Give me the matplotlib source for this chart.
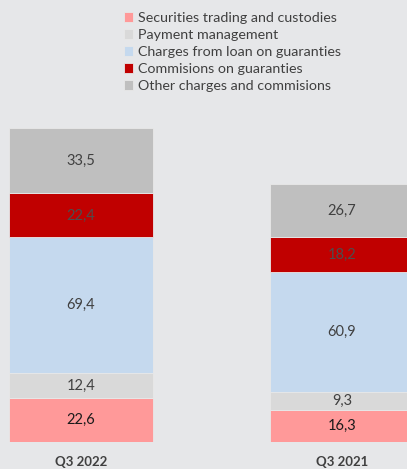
import matplotlib
matplotlib.use("Agg")
import matplotlib.pyplot as plt
import numpy as np

plt.rcParams['font.family'] = ['Lato', 'DejaVu Sans']

periods = ["Q3 2022", "Q3 2021"]
series = [
    "Securities trading and custodies",
    "Payment management",
    "Charges from loan on guaranties",
    "Commisions on guaranties",
    "Other charges and commisions",
]
values = [
    [22.6, 16.3],
    [12.4, 9.3],
    [69.4, 60.9],
    [22.4, 18.2],
    [33.5, 26.7],
]
colors = ["#ff9999", "#d9d9d9", "#c5d9ee", "#c00000", "#bfbfbf"]
text_colors = ["#1a1a1a", "#404040", "#404040", "#4d4d4d", "#404040"]

bg = "#e6e7e9"
fig = plt.figure(figsize=(4.07, 4.69), dpi=100, facecolor=bg)
ax = fig.add_axes([0, 27 / 469, 1, 442 / 469])
ax.set_facecolor(bg)

x = np.arange(len(periods))
width = 0.552
bottom = np.zeros(len(periods))
handles = []
for name, vals, col, tcol in zip(series, values, colors, text_colors):
    vals = np.array(vals)
    bars = ax.bar(x, vals, width, bottom=bottom, color=col, label=name,
                  edgecolor="#e8e8e8", linewidth=0.6)
    handles.append(bars)
    for xi, v, b in zip(x, vals, bottom):
        ax.text(xi, b + v / 2, f"{v:.1f}".replace(".", ","), ha="center",
                va="center", fontsize=10.5, color=tcol)
    bottom += vals

ax.set_xlim(-0.310, 1.249)
ax.set_ylim(0, 225.5)
ax.axis("off")

for xi, p in zip(x, periods):
    ax.text(xi, -10, p, ha="center", va="center", fontsize=9.5,
            fontweight="bold", color="#404040")

fig.legend(handles=handles, labels=series, loc="upper left",
           bbox_to_anchor=(114 / 407, 1 - 2 / 469), frameon=False,
           fontsize=10.3, labelcolor="#404040", handlelength=0.65,
           handleheight=0.65, handletextpad=0.3, labelspacing=0.35,
           borderpad=0.2)

fig.savefig("out.png", dpi=100, facecolor=bg)
